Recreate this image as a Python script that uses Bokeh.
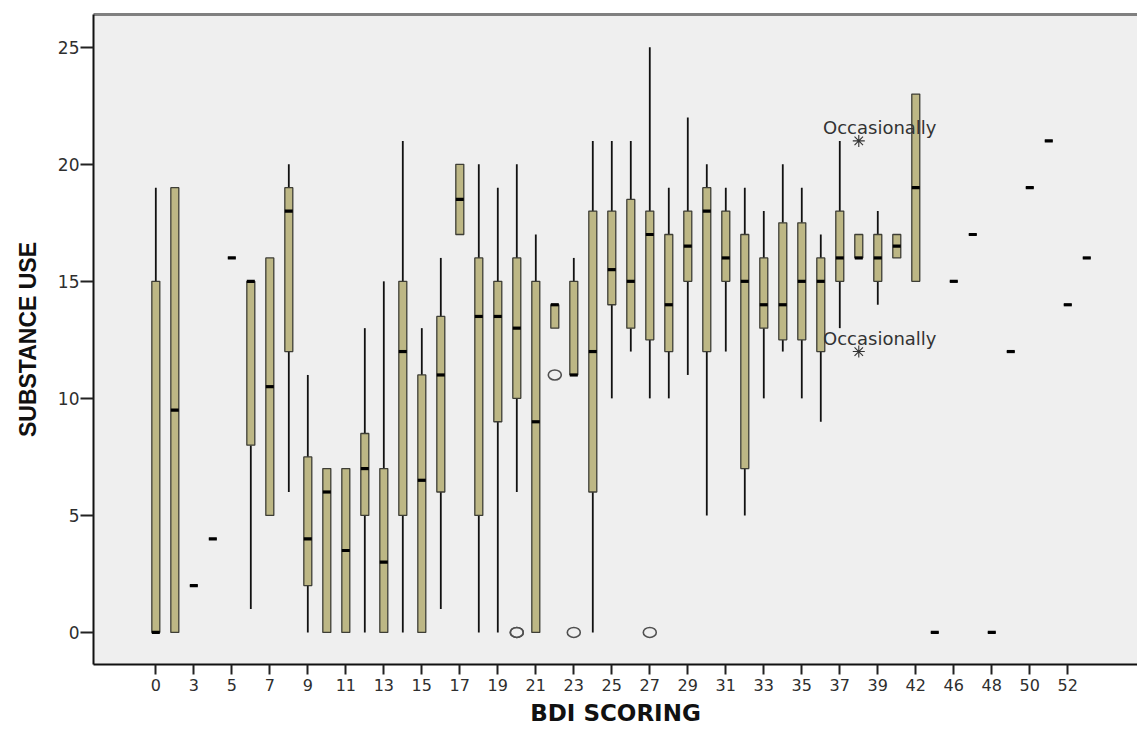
from bokeh.plotting import figure
from bokeh.models import Range1d, FixedTicker, LinearAxis, ColumnDataSource
from bokeh.embed import file_html
from bokeh.resources import INLINE
from bokeh.core.properties import value

# ---- data ----
bdi = ["0", "2", "3", "4", "5", "6", "7", "8", "9", "10", "11", "12", "13", "14",
       "15", "16", "17", "18", "19", "20", "21", "22", "23", "24", "25", "26", "27",
       "28", "29", "30", "31", "32", "33", "34", "35", "36", "37", "38", "39", "40",
       "42", "44", "46", "47", "48", "49", "50", "51", "52", "53"]
whisker_low = [0, 0, 2, 4, 16, 1, 5, 6, 0, 0, 0, 0, 0, 0, 0, 1, 17, 0, 0, 6, 0, 13, 11, 0, 10,
               12, 10, 10, 11, 5, 12, 5, 10, 12, 10, 9, 13, 16, 14, 16, 15, 0, 15, 17, 0, 12,
               19, 21, 14, 16]
q1 = [0, 0, 2, 4, 16, 8, 5, 12, 2, 0, 0, 5, 0, 5, 0, 6, 17, 5, 9, 10, 0, 13, 11, 6, 14,
      13, 12.5, 12, 15, 12, 15, 7, 13, 12.5, 12.5, 12, 15, 16, 15, 16, 15, 0, 15, 17, 0, 12,
      19, 21, 14, 16]
median = [0, 9.5, 2, 4, 16, 15, 10.5, 18, 4, 6, 3.5, 7, 3, 12, 6.5, 11, 18.5, 13.5, 13.5, 13,
          9, 14, 11, 12, 15.5, 15, 17, 14, 16.5, 18, 16, 15, 14, 14, 15, 15, 16, 16, 16, 16.5,
          19, 0, 15, 17, 0, 12, 19, 21, 14, 16]
q3 = [15, 19, 2, 4, 16, 15, 16, 19, 7.5, 7, 7, 8.5, 7, 15, 11, 13.5, 20, 16, 15, 16, 15, 14,
      15, 18, 18, 18.5, 18, 17, 18, 19, 18, 17, 16, 17.5, 17.5, 16, 18, 17, 17, 17, 23, 0,
      15, 17, 0, 12, 19, 21, 14, 16]
whisker_high = [19, 19, 2, 4, 16, 15, 16, 20, 11, 7, 7, 13, 15, 21, 13, 16, 20, 20, 19, 20, 17,
                14, 16, 21, 21, 21, 25, 19, 22, 20, 19, 19, 18, 20, 19, 17, 21, 17, 18, 17, 23,
                0, 15, 17, 0, 12, 19, 21, 14, 16]

tick_labels = ["0", "3", "5", "7", "9", "11", "13", "15", "17", "19", "21", "23", "25", "27",
               "29", "31", "33", "35", "37", "39", "42", "46", "48", "50", "52"]

outlier_bdi = ["20", "20", "22", "23", "27"]
outlier_val = [0, 0, 11, 0, 0]

extreme_bdi = ["38", "38"]
extreme_val = [21, 12]
extreme_text = ["Occasionally", "Occasionally"]

# ---- build ----
pos = {c: i for i, c in enumerate(bdi)}
xs = [pos[c] for c in bdi]

src = ColumnDataSource(dict(x=xs, low=whisker_low, q1=q1, med=median, q3=q3, high=whisker_high))
out_src = ColumnDataSource(dict(x=[pos[c] for c in outlier_bdi], y=outlier_val))
ext_src = ColumnDataSource(dict(x=[pos[c] for c in extreme_bdi], y=extreme_val, t=extreme_text))

p = figure(width=1137, height=730, output_backend="svg", toolbar_location=None,
           x_range=Range1d(-3.28, 51.67), y_range=Range1d(-1.37, 26.4),
           min_border_left=93, min_border_right=0, min_border_top=14, min_border_bottom=66)

p.background_fill_color = "#EFEFEF"
p.border_fill_color = "white"
p.outline_line_color = None
p.xgrid.visible = False
p.ygrid.visible = False

# whiskers
p.segment(x0="x", y0="low", x1="x", y1="q1", source=src, line_color="#111111", line_width=1.8)
p.segment(x0="x", y0="q3", x1="x", y1="high", source=src, line_color="#111111", line_width=1.8)
# boxes
p.vbar(x="x", bottom="q1", top="q3", width=0.42, source=src,
       fill_color="#BDB785", line_color="#3E3E36", line_width=1.3)
# medians
p.scatter(x="x", y="med", source=src, marker="dash", size=8, line_width=3.2,
          line_color="black", fill_color="black")
# outliers
p.ellipse(x="x", y="y", width=13, height=10, width_units="screen", height_units="screen",
          source=out_src, fill_color=None, line_color="#505050", line_width=1.6)
# extremes
p.scatter(x="x", y="y", source=ext_src, marker="asterisk", size=12, line_width=1.1,
          line_color="#333333")
p.text(x="x", y="y", text="t", source=ext_src, x_offset=21, y_offset=-13,
       text_align="center", text_baseline="alphabetic",
       text_font=value("DejaVu Sans"), text_font_size="18px", text_color="#333333")

# axes
xa = p.xaxis[0]
xa.ticker = FixedTicker(ticks=[pos[t] for t in tick_labels])
xa.major_label_overrides = {pos[t]: t for t in tick_labels}
xa.axis_label = "BDI SCORING"
ya = p.yaxis[0]
ya.ticker = FixedTicker(ticks=[0, 5, 10, 15, 20, 25])
ya.axis_label = "SUBSTANCE USE"

for ax in (xa, ya):
    ax.axis_line_color = "#111111"
    ax.axis_line_width = 2
    ax.major_tick_line_color = "#222222"
    ax.major_tick_line_width = 2
    ax.major_tick_in = 0
    ax.minor_tick_line_color = None
    ax.major_label_text_font = "DejaVu Sans"
    ax.major_label_text_color = "#2E2E2E"
    ax.axis_label_text_color = "#111111"
    ax.axis_label_text_font_style = "bold"

xa.major_tick_out = 10
xa.major_label_standoff = 4
xa.major_label_text_font_size = "16px"
xa.axis_label_standoff = 6
xa.axis_label_text_font = "DejaVu Sans"
xa.axis_label_text_font_size = "23px"

ya.major_tick_out = 13
ya.major_label_standoff = 1
ya.major_label_text_font_size = "17px"
ya.axis_label_standoff = 14
ya.axis_label_text_font = "Liberation Sans"
ya.axis_label_text_font_size = "23px"

top = LinearAxis(ticker=FixedTicker(ticks=[]), axis_line_color="#808080", axis_line_width=3,
                 major_tick_line_color=None, minor_tick_line_color=None,
                 major_label_text_font_size="0px")
p.add_layout(top, "above")

open("out.html", "w").write(file_html(p, INLINE))
